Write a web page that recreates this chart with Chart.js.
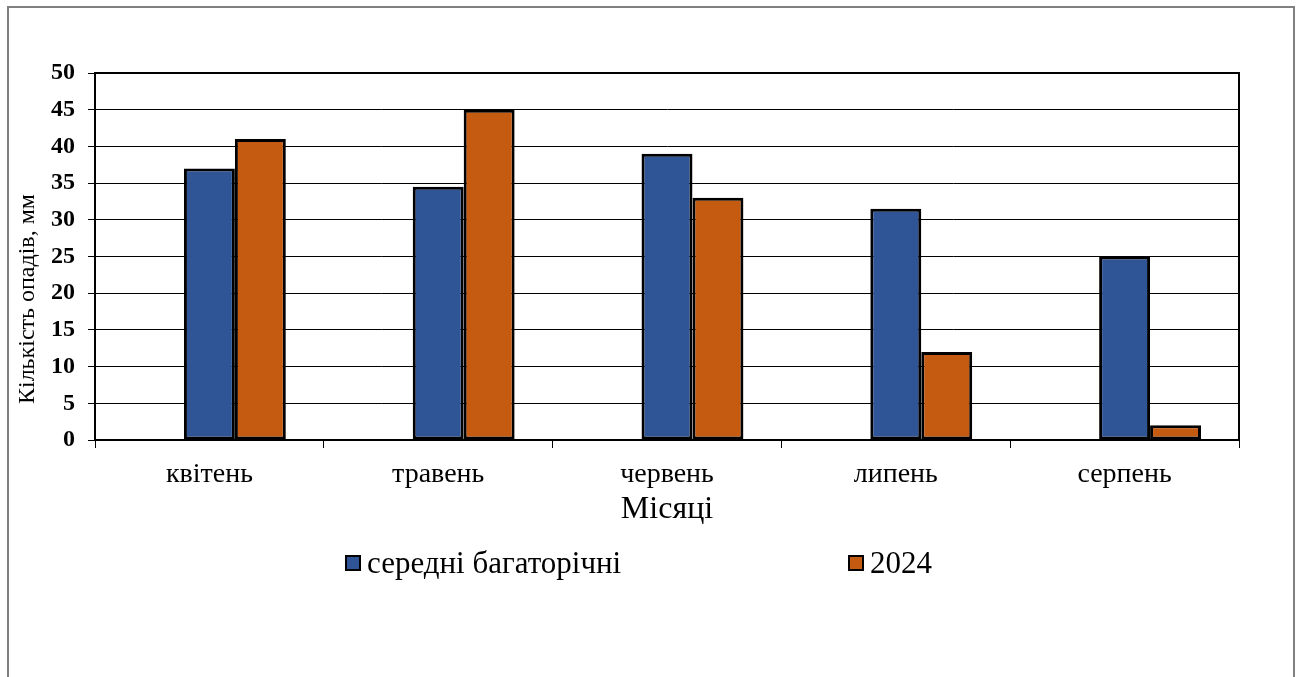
<!DOCTYPE html>
<html lang="uk">
<head>
<meta charset="utf-8">
<title>Кількість опадів</title>
<script src="https://cdn.jsdelivr.net/npm/chart.js@4.4.1/dist/chart.umd.min.js"></script>
<style>
  html, body { margin: 0; padding: 0; background: #fff; }
  #wrap { position: relative; width: 1301px; height: 677px; overflow: hidden; }
  #frame { position: absolute; left: 7px; top: 6px; width: 1284px; height: 720px; border: 2px solid #808080; }
  #chart { position: absolute; left: 0; top: 0; }
  #legend { position: absolute; left: 0; top: 548px; width: 1301px; height: 30px;
            font-family: "Liberation Serif", "Times New Roman", serif; font-size: 31px; color: #000; }
  #legend .item { position: absolute; top: 0; height: 30px; display: flex; align-items: center; white-space: nowrap; }
  #legend .box { width: 12px; height: 12px; border: 2px solid #000; margin-right: 6px; }
</style>
</head>
<body>
<div id="wrap">
  <div id="frame"></div>
  <canvas id="chart" width="1301" height="677"></canvas>
  <div id="legend"></div>
</div>
<script>
/* ---------- data ---------- */
const months = ["квітень", "травень", "червень", "липень", "серпень"];
const seriesNames = ["середні багаторічні", "2024"];
const avgValues = [37, 34.5, 39, 31.5, 25];
const values2024 = [41, 45, 33, 12, 2];
// empty first series: keeps its slot in every group, so the bars sit right of centre
const emptySeries = [null, null, null, null, null];

const yMin = 0, yMax = 50, yStep = 5;
const xTitle = "Місяці";
const yTitle = "Кількість опадів, мм";

const SERIF = "'Liberation Serif', 'Times New Roman', serif";
const BLUE = "#2F5597";
const ORANGE = "#C55A11";

/* ---------- plugins ---------- */

// black frame round the plot area (top and right sides)
const plotFrame = {
  id: "plotFrame",
  afterDatasetsDraw(chart) {
    const { ctx, chartArea: a } = chart;
    ctx.save();
    ctx.strokeStyle = "#000";
    ctx.lineWidth = 2;
    ctx.strokeRect(a.left, a.top, a.right - a.left, a.bottom - a.top);
    ctx.restore();
  }
};

// y title sits lower than the middle of the axis, so it is drawn by hand
const yTitleText = {
  id: "yTitleText",
  afterDraw(chart) {
    const ctx = chart.ctx;
    ctx.save();
    ctx.translate(28, 299);
    ctx.rotate(-Math.PI / 2);
    ctx.font = "24px " + SERIF;
    ctx.fillStyle = "#000";
    ctx.textAlign = "center";
    ctx.textBaseline = "middle";
    ctx.fillText(yTitle, 0, 0);
    ctx.restore();
  }
};

// legend as html, spaced wide like the office chart
const legendLeft = [345, 848];
const htmlLegend = {
  id: "htmlLegend",
  afterUpdate(chart) {
    const box = document.getElementById("legend");
    box.innerHTML = "";
    chart.data.datasets.filter(d => d.label).forEach((d, i) => {
      const item = document.createElement("div");
      item.className = "item";
      item.style.left = legendLeft[i] + "px";
      const sw = document.createElement("span");
      sw.className = "box";
      sw.style.background = d.backgroundColor;
      const txt = document.createElement("span");
      txt.textContent = d.label;
      item.appendChild(sw);
      item.appendChild(txt);
      box.appendChild(item);
    });
  }
};

/* ---------- chart ---------- */

const barStyle = { borderColor: "#000", borderWidth: 3, borderSkipped: false };

new Chart(document.getElementById("chart"), {
  type: "bar",
  data: {
    labels: months,
    datasets: [
      { label: "", data: emptySeries, backgroundColor: "rgba(0,0,0,0)" },
      { label: seriesNames[0], data: avgValues, backgroundColor: BLUE, ...barStyle },
      { label: seriesNames[1], data: values2024, backgroundColor: ORANGE, ...barStyle }
    ]
  },
  options: {
    responsive: false,
    animation: false,
    categoryPercentage: 0.668,
    barPercentage: 1,
    layout: { padding: { top: 73, right: 62, bottom: 144, left: 0 } },
    plugins: {
      legend: { display: false },
      tooltip: { enabled: false }
    },
    scales: {
      x: {
        grid: { drawOnChartArea: false, drawTicks: true, tickLength: 8, color: "#000", lineWidth: 1, offset: true },
        border: { color: "#000", width: 2 },
        ticks: { color: "#000", font: { family: SERIF, size: 28 }, padding: 10 },
        title: { display: true, text: xTitle, color: "#000", font: { family: SERIF, size: 32 }, padding: { top: 1 } },
        afterFit: s => { s.height = 93; }
      },
      y: {
        min: yMin,
        max: yMax,
        ticks: { stepSize: yStep, color: "#000", font: { family: SERIF, size: 24, weight: "bold" }, padding: 13 },
        grid: { color: "#000", lineWidth: 1, tickLength: 7 },
        border: { color: "#000", width: 2 },
        afterFit: s => { s.width = 95; }
      }
    }
  },
  plugins: [plotFrame, yTitleText, htmlLegend]
});
</script>
</body>
</html>
